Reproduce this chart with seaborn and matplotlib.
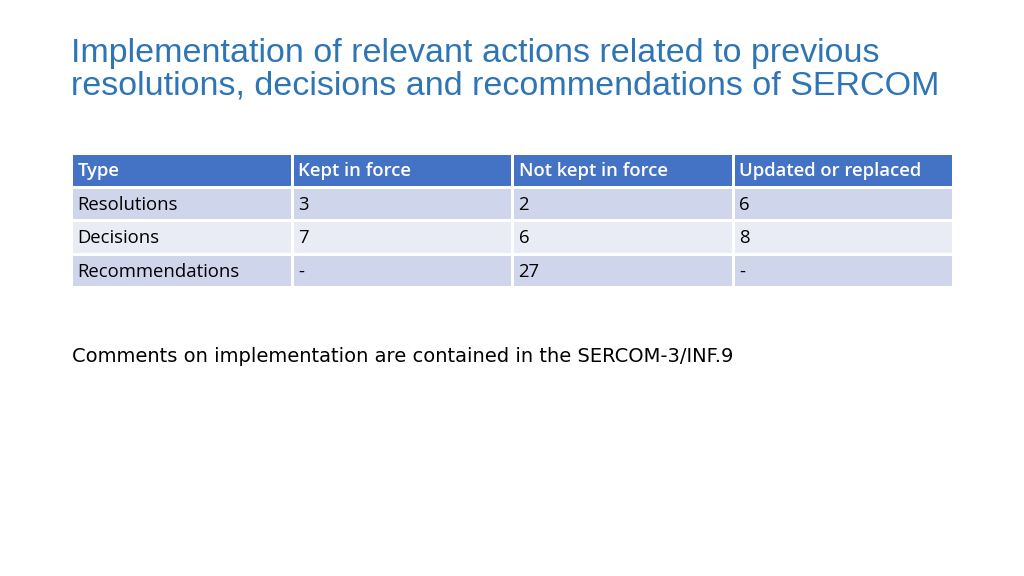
import numpy as np
import matplotlib
matplotlib.use("Agg")
import matplotlib.pyplot as plt
from matplotlib.colors import ListedColormap
import seaborn as sns

# table contents
columns = ["Type", "Kept in force", "Not kept in force", "Updated or replaced"]
row_types = ["Resolutions", "Decisions", "Recommendations"]
kept = ["3", "7", "-"]
not_kept = ["2", "6", "27"]
updated = ["6", "8", "-"]

title = ("Implementation of relevant actions related to previous\n"
         "resolutions, decisions and recommendations of SERCOM")
comment = "Comments on implementation are contained in the SERCOM-3/INF.9"

cells = [columns] + [list(r) for r in zip(row_types, kept, not_kept, updated)]
# 0 = header, 1 = dark band, 2 = light band
shade = np.array([[0] * 4] + [[1 if i % 2 == 0 else 2] * 4 for i in range(len(row_types))])

fig = plt.figure(figsize=(10.24, 5.76), dpi=100)
fig.text(71 / 1024, 1 - 38 / 576, title, color="#2E75B6", fontsize=24.5,
         family="Liberation Sans", va="top", linespacing=1.05)

ax = fig.add_axes([71 / 1024, 1 - 287 / 576, 882 / 1024, 134 / 576])
sns.heatmap(shade, ax=ax, cmap=ListedColormap(["#4472C4", "#CFD5EA", "#E9EBF5"]),
            vmin=-0.5, vmax=2.5, cbar=False, linewidths=2, linecolor="white")
ax.set_xticks([])
ax.set_yticks([])
for r, row in enumerate(cells):
    for c, txt in enumerate(row):
        ax.text(c + 0.03, r + 0.55, txt, va="center", ha="left", family="Open Sans",
                fontsize=13.3, color="white" if r == 0 else "black",
                weight="semibold" if r == 0 else "normal")

fig.text(72 / 1024, 1 - 356 / 576, comment, fontsize=14, fontfamily="DejaVu Sans",
         va="center", color="black")

fig.savefig("out.png", dpi=100)
